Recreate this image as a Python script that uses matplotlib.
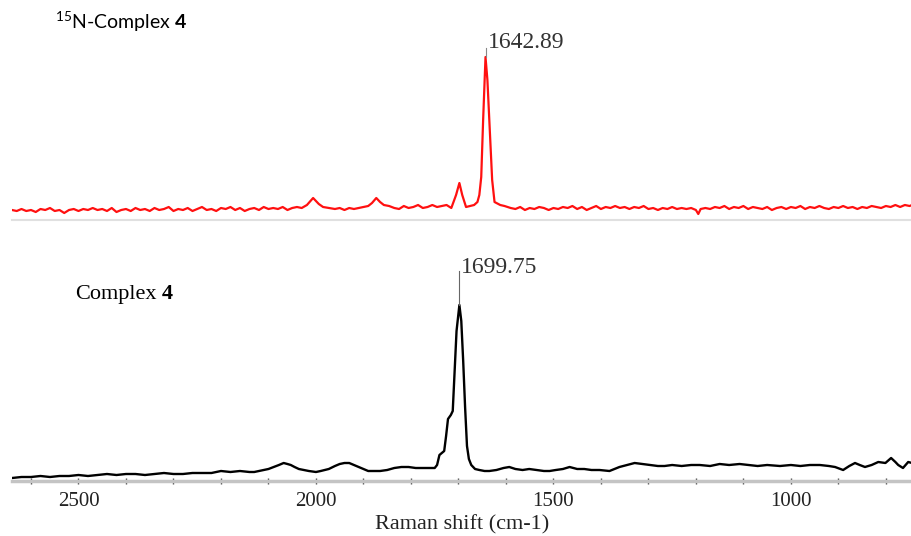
import numpy as np
import matplotlib.pyplot as plt

# red trace: 15N-Complex 4 (shift in cm-1, intensity in arbitrary units)
red_shift = [2640, 2630, 2620, 2610, 2600, 2590, 2580, 2570, 2560, 2550, 2540, 2530, 2520, 2510,
             2500, 2490, 2480, 2470, 2460, 2450, 2440, 2430, 2420, 2410, 2400, 2390, 2380, 2370,
             2360, 2350, 2340, 2330, 2320, 2310, 2300, 2290, 2280, 2270, 2260, 2250, 2240, 2230,
             2220, 2210, 2200, 2190, 2180, 2170, 2160, 2150, 2140, 2130, 2120, 2110, 2100, 2090,
             2080, 2070, 2060, 2050, 2040, 2030, 2019, 2006, 1994, 1985, 1973, 1960, 1950, 1940,
             1930, 1920, 1910, 1899, 1890, 1882, 1873, 1865, 1857, 1846, 1835, 1825, 1815, 1805,
             1795, 1785, 1775, 1765, 1755, 1745, 1735, 1725, 1715, 1705, 1698, 1692, 1684, 1675,
             1667, 1660, 1656, 1652, 1648, 1643, 1639, 1635, 1629, 1624, 1620, 1612, 1603,
             1590, 1580, 1570, 1560, 1550, 1540, 1530, 1520, 1510, 1500, 1490, 1480, 1470, 1460,
             1450, 1440, 1430, 1420, 1410, 1400, 1390, 1380, 1370, 1360, 1350, 1340, 1330, 1320,
             1310, 1300, 1290, 1280, 1270, 1260, 1250, 1240, 1230, 1220, 1210, 1200, 1195, 1190,
             1180, 1170, 1160, 1150, 1140, 1130, 1120, 1110, 1100, 1090, 1080, 1070, 1060, 1050,
             1040, 1030, 1020, 1010, 1000, 990, 980, 970, 960, 950, 940, 930, 920, 910, 900, 890,
             880, 870, 860, 850, 840, 830, 820, 810, 800, 790, 780, 770, 760, 750, 745]
red_int = [10, 9, 11, 9, 10, 8, 11, 10, 12, 9, 10, 7, 10, 11,
           9, 11, 10, 12, 10, 11, 9, 12, 8, 10, 11, 9, 12, 10,
           11, 9, 12, 10, 11, 13, 9, 11, 10, 12, 9, 11, 13, 10,
           11, 9, 12, 11, 13, 10, 12, 9, 11, 12, 10, 13, 11, 12,
           11, 13, 10, 12, 13, 12, 15, 22, 16, 13, 12, 11, 12, 10,
           12, 11, 12, 13, 14, 17, 22, 18, 15, 14, 12, 11, 14, 12,
           13, 15, 12, 13, 15, 13, 14, 15, 12, 25, 37, 25, 13, 14,
           15, 18, 25, 43, 100, 163, 140, 100, 40, 18, 17, 15, 14,
           12, 11, 13, 10, 12, 11, 13, 12, 10, 12, 11, 13, 12, 14,
           11, 13, 10, 12, 14, 11, 13, 12, 14, 12, 13, 11, 13, 12,
           14, 11, 12, 10, 12, 11, 13, 11, 12, 11, 12, 10, 6, 11,
           12, 11, 13, 12, 14, 11, 13, 12, 14, 11, 13, 12, 11, 13,
           10, 12, 13, 11, 13, 12, 14, 11, 13, 12, 14, 12, 11, 13, 12, 14,
           12, 13, 11, 13, 12, 14, 13, 12, 14, 13, 15, 13, 15, 14, 15]

# black trace: Complex 4
black_shift = [2640, 2620, 2600, 2580, 2560, 2540, 2520, 2500, 2480, 2460, 2440, 2420, 2400,
               2380, 2360, 2340, 2320, 2300, 2280, 2260, 2240, 2220, 2200, 2180, 2160, 2140,
               2130, 2120, 2110, 2100, 2089, 2078, 2068, 2060, 2053, 2045, 2036, 2025, 2015,
               2000, 1990, 1973, 1960, 1950, 1940, 1930, 1920, 1910, 1900, 1890, 1880, 1865,
               1850, 1835, 1820, 1805, 1790, 1775, 1760, 1750, 1745, 1740, 1735, 1730, 1726,
               1722, 1716, 1712, 1708, 1704, 1698, 1694, 1690, 1686, 1682, 1678, 1673, 1665,
               1656, 1645, 1635, 1620, 1605, 1593, 1580, 1565, 1551, 1535, 1520, 1508, 1495,
               1480, 1466, 1450, 1435, 1420, 1403, 1382, 1361, 1345, 1329, 1313, 1297, 1280,
               1266, 1250, 1230, 1210, 1192, 1170, 1150, 1130, 1108, 1090, 1070, 1050, 1023,
               1000, 980, 960, 939, 920, 907, 890, 877, 865, 855, 844, 830, 816, 801, 789,
               780, 774, 764, 753, 745]
black_int = [3, 4, 4, 5, 4, 5, 5, 6, 5, 6, 7, 6, 7,
             7, 6, 7, 8, 7, 7, 8, 8, 8, 10, 9, 10, 9,
             9, 10, 11, 12, 14, 16, 18, 17, 16, 14, 12, 11, 10,
             9, 10, 12, 15, 17, 18, 18, 16, 14, 12, 10, 10, 10,
             11, 13, 14, 14, 13, 13, 13, 13, 16, 26, 28, 30, 45,
             62, 66, 70, 110, 150, 176, 160, 120, 74, 35, 22, 16, 12,
             11, 10, 10, 11, 13, 14, 12, 11, 12, 11, 10, 10, 11,
             12, 14, 12, 12, 11, 11, 10, 14, 16, 18, 17, 16, 15,
             15, 16, 15, 16, 16, 15, 17, 16, 17, 16, 15, 16, 15,
             16, 15, 16, 16, 15, 14, 11, 15, 18, 16, 14, 16, 19, 18, 23,
             19, 16, 13, 19, 18]

red_peak = (1642.89, 163)
black_peak = (1699.75, 176)

plt.rcParams['mathtext.fontset'] = 'custom'
plt.rcParams['mathtext.rm'] = 'Lato'
plt.rcParams['mathtext.bf'] = 'Lato:bold'

fig = plt.figure(figsize=(9.12, 5.36), dpi=100)
W, H = 912, 536
ax1 = fig.add_axes([12 / W, (H - 220) / H, 900 / W, 220 / H])
ax2 = fig.add_axes([12 / W, (H - 481) / H, 900 / W, 245 / H])

xmin, xmax = 2640, 745
for ax in (ax1, ax2):
    ax.set_xlim(xmin, xmax)
    for s in ('top', 'left', 'right'):
        ax.spines[s].set_visible(False)
    ax.set_yticks([])
    ax.patch.set_alpha(0)

ax1.set_ylim(0, 220)
ax1.plot(red_shift, red_int, color='#ff1010', lw=1.6)
ax1.spines['bottom'].set_color('#e0e0e0')
ax1.spines['bottom'].set_linewidth(1.5)
ax1.set_xticks([])

ax2.set_ylim(0, 245)
ax2.plot(black_shift, black_int, color='black', lw=1.7)
ax2.spines['bottom'].set_color('#c4c4c4')
ax2.spines['bottom'].set_linewidth(2.5)
ax2.set_xticks([2500, 2000, 1500, 1000])
ax2.set_xticks(np.arange(2600, 700, -100), minor=True)
ax2.tick_params(axis='x', which='both', direction='inout', length=4, width=1,
                color='#505050', pad=6, labelsize=15, labelcolor='#222222')
for lab in ax2.get_xticklabels():
    lab.set_family('Liberation Serif')
ax2.set_xlabel('Raman shift (cm-1)', family='Liberation Serif', fontsize=16,
               color='#222222', labelpad=3)

# peak labels
ax1.plot([red_peak[0], red_peak[0]], [red_peak[1], 172], color='#888888', lw=0.8)
ax1.text(red_peak[0] - 4, 178, '1642.89', family='Liberation Serif', fontsize=17,
         color='#333333', va='center', ha='left')
ax2.plot([black_peak[0], black_peak[0]], [black_peak[1], 210], color='#666666', lw=0.8)
ax2.text(black_peak[0] - 4, 213, '1699.75', family='Liberation Serif', fontsize=17,
         color='#333333', va='center', ha='left')

fig.text(55 / W, 1 - 22 / H, r'$^{15}$N-Complex $\mathbf{4}$', family='Lato',
         fontsize=14, va='center', ha='left')
fig.text(75 / W, 1 - 294 / H, 'Complex', family='Liberation Serif', fontsize=16,
         va='center', ha='left')
fig.text(162 / W, 1 - 294 / H, '4', family='Liberation Serif', fontweight='bold',
         fontsize=16, va='center', ha='left')

fig.savefig('out.png', dpi=100)
